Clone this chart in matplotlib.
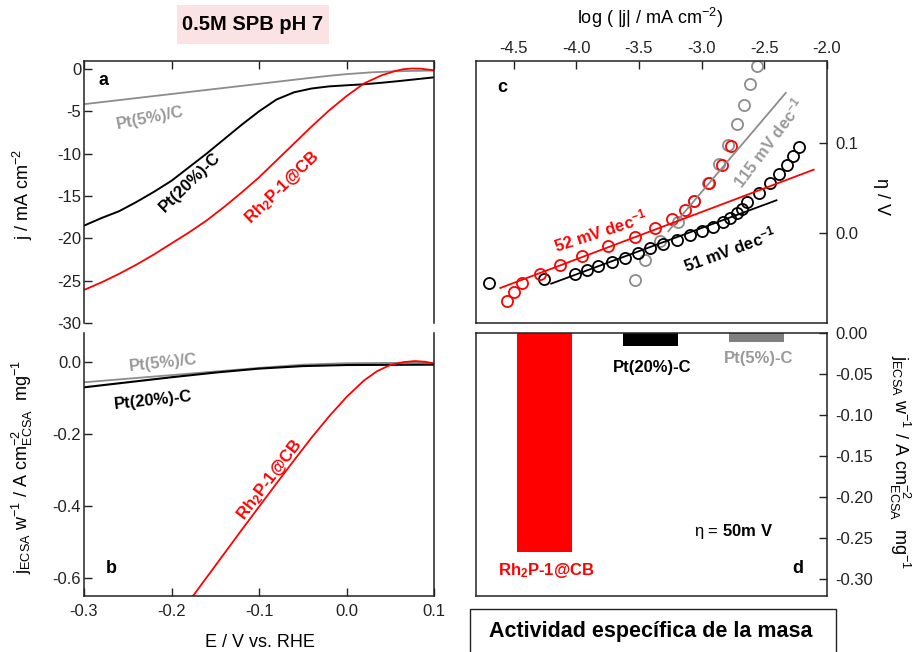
import matplotlib
matplotlib.use("Agg")
import matplotlib.pyplot as plt
from matplotlib.patches import Rectangle

plt.rcParams.update({
    "font.family": ["Liberation Sans", "DejaVu Sans"],
    "font.size": 12,
    "mathtext.fontset": "custom",
    "mathtext.rm": "Liberation Sans",
    "mathtext.it": "Liberation Sans:italic",
    "mathtext.bf": "Liberation Sans:bold",
    "mathtext.default": "regular",
    "axes.unicode_minus": False,
    "axes.linewidth": 1.1,
    "axes.edgecolor": "#222222",
})

RED = "#ff0000"
BLACK = "#000000"
GRAY = "#8c8c8c"
GRAY_TXT = "#999999"

# ---- (a) polarization curves, j / mA cm-2 vs E / V vs RHE ----
E_pt5_a = [-0.30, -0.25, -0.20, -0.15, -0.10, -0.05, -0.02, 0.00, 0.03, 0.06, 0.10]
j_pt5_a = [-4.15, -3.55, -2.95, -2.35, -1.75, -1.15, -0.80, -0.60, -0.38, -0.25, -0.18]

E_pt20_a = [-0.30, -0.28, -0.26, -0.24, -0.22, -0.20, -0.18, -0.16, -0.14, -0.12, -0.10,
            -0.08, -0.06, -0.04, -0.02, 0.00, 0.02, 0.04, 0.06, 0.08, 0.10]
j_pt20_a = [-18.5, -17.6, -16.8, -15.7, -14.5, -13.2, -11.6, -10.0, -8.3, -6.6, -5.0,
            -3.6, -2.75, -2.3, -2.05, -1.92, -1.8, -1.62, -1.42, -1.2, -0.98]

E_rh_a = [-0.30, -0.28, -0.26, -0.24, -0.22, -0.20, -0.18, -0.16, -0.14, -0.12, -0.10,
          -0.08, -0.06, -0.04, -0.02, 0.00, 0.02, 0.04, 0.055, 0.065, 0.075, 0.085, 0.10]
j_rh_a = [-26.1, -25.2, -24.2, -23.1, -21.9, -20.6, -19.3, -17.9, -16.3, -14.6, -12.8,
          -10.8, -8.8, -6.8, -4.9, -3.2, -1.7, -0.75, -0.25, -0.02, 0.06, 0.04, -0.15]

# ---- (b) ECSA/mass normalised activity ----
E_pt5_b = [-0.30, -0.25, -0.20, -0.15, -0.10, -0.05, 0.00, 0.05, 0.10]
j_pt5_b = [-0.057, -0.047, -0.037, -0.027, -0.017, -0.008, -0.004, -0.003, -0.003]

E_pt20_b = [-0.30, -0.25, -0.20, -0.15, -0.10, -0.05, 0.00, 0.05, 0.10]
j_pt20_b = [-0.071, -0.057, -0.043, -0.030, -0.019, -0.012, -0.009, -0.0085, -0.008]

E_rh_b = [-0.18, -0.16, -0.14, -0.12, -0.10, -0.08, -0.06, -0.04, -0.02, 0.00, 0.02,
          0.035, 0.05, 0.065, 0.078, 0.09, 0.10]
j_rh_b = [-0.666, -0.600, -0.534, -0.468, -0.403, -0.338, -0.274, -0.211, -0.152, -0.098,
          -0.052, -0.026, -0.009, -0.001, 0.002, 0.0, -0.005]

# ---- (c) Tafel plots: eta / V vs log(|j| / mA cm-2) ----
logj_rh = [-4.553, -4.500, -4.430, -4.287, -4.128, -3.953, -3.744, -3.529, -3.374,
           -3.239, -3.133, -3.059, -2.939, -2.841, -2.769]
eta_rh = [-0.0760, -0.0656, -0.0556, -0.0452, -0.0352, -0.0252, -0.0148, -0.0044, 0.0054,
          0.0155, 0.0251, 0.0352, 0.0555, 0.0759, 0.0963]

logj_pt20 = [-4.699, -4.256, -4.009, -3.916, -3.823, -3.717, -3.611, -3.505, -3.412,
             -3.306, -3.199, -3.093, -3.000, -2.908, -2.830, -2.770, -2.720, -2.680,
             -2.640, -2.541, -2.456, -2.382, -2.318, -2.271, -2.223]
eta_pt20 = [-0.0556, -0.0511, -0.0452, -0.0415, -0.0371, -0.0326, -0.0278, -0.0222,
            -0.0167, -0.0119, -0.0074, -0.0019, 0.0019, 0.0067, 0.0120, 0.0170, 0.0220,
            0.0270, 0.0340, 0.0444, 0.0556, 0.0656, 0.0752, 0.0852, 0.0952]

logj_pt5 = [-3.529, -3.449, -3.330, -3.190, -3.062, -2.947, -2.860, -2.788, -2.716,
            -2.663, -2.615, -2.562]
eta_pt5 = [-0.052, -0.030, -0.009, 0.012, 0.035, 0.0555, 0.0766, 0.098, 0.1215,
           0.1426, 0.165, 0.185]

# Tafel fit segments (start/end in log j, eta)
fit_rh_x, fit_rh_y = [-4.606, -2.106], [-0.0611, 0.0703]
fit_pt20_x, fit_pt20_y = [-4.200, -2.403], [-0.0563, 0.0363]
fit_pt5_x, fit_pt5_y = [-3.266, -2.329], [0.0019, 0.1556]

# ---- (d) specific mass activity at eta = 50 mV ----
catalysts = ["Rh$_\\mathbf{2}$P-1@CB", "Pt(20%)-C", "Pt(5%)-C"]
activity = [-0.267, -0.016, -0.011]
bar_colors = [RED, BLACK, "#808080"]
label_colors = [RED, BLACK, GRAY_TXT]
label_y = [-0.290, -0.0415, -0.0317]

W, H = 916, 652
fig = plt.figure(figsize=(W / 100, H / 100), dpi=100)


def frac(left, top, right, bottom):
    return [left / W, 1 - bottom / H, (right - left) / W, (bottom - top) / H]


ax_a = fig.add_axes(frac(84, 61, 434, 323))
ax_b = fig.add_axes(frac(84, 333, 434, 596))
ax_c = fig.add_axes(frac(476, 61, 827, 323))
ax_d = fig.add_axes(frac(476, 333, 827, 596))

tick_kw = dict(direction="in", length=6, width=1.0, labelsize=12, colors="#222222",
               labelcolor="#222222")

# (a)
ax_a.plot(E_pt5_a, j_pt5_a, color=GRAY, lw=1.3)
ax_a.plot(E_pt20_a, j_pt20_a, color=BLACK, lw=1.4)
ax_a.plot(E_rh_a, j_rh_a, color=RED, lw=1.3)
ax_a.set_xlim(-0.3, 0.1)
ax_a.set_ylim(-30, 0.95)
ax_a.set_yticks([0, -5, -10, -15, -20, -25, -30])
ax_a.set_xticks([-0.3, -0.2, -0.1, 0.0, 0.1])
ax_a.spines["bottom"].set_visible(False)
ax_a.tick_params(axis="both", **tick_kw)
ax_a.tick_params(axis="x", top=True, bottom=False, labelbottom=False)
ax_a.tick_params(axis="y", pad=2)
ax_a.set_ylabel("j / mA cm$^{-2}$", fontsize=13)
ax_a.yaxis.set_label_coords(-0.174, 0.492)
ax_a.yaxis.label.set_va("center")
ax_a.text(0.057, 0.927, "a", transform=ax_a.transAxes, fontsize=13, fontweight="bold",
          ha="center", va="center")
ax_a.text(-0.2246, -5.79, "Pt(5%)/C", color=GRAY_TXT, fontsize=12, fontweight="bold",
          rotation=11, ha="center", va="center", rotation_mode="anchor")
ax_a.text(-0.1789, -13.35, "Pt(20%)-C", color=BLACK, fontsize=12, fontweight="bold",
          rotation=44, ha="center", va="center", rotation_mode="anchor")
ax_a.text(-0.0737, -14.05, "Rh$_\\mathbf{2}$P-1@CB", color=RED, fontsize=12,
          fontweight="bold", rotation=44, ha="center", va="center", rotation_mode="anchor")

# (b)
ax_b.plot(E_pt5_b, j_pt5_b, color=GRAY, lw=1.3)
ax_b.plot(E_pt20_b, j_pt20_b, color=BLACK, lw=1.5)
ax_b.plot(E_rh_b, j_rh_b, color=RED, lw=1.3)
ax_b.set_xlim(-0.3, 0.1)
ax_b.set_ylim(-0.651, 0.08)
ax_b.set_yticks([0.0, -0.2, -0.4, -0.6])
ax_b.set_yticklabels(["0.0", "-0.2", "-0.4", "-0.6"])
ax_b.set_xticks([-0.3, -0.2, -0.1, 0.0, 0.1])
ax_b.set_xticklabels(["-0.3", "-0.2", "-0.1", "0.0", "0.1"])
ax_b.spines["top"].set_visible(False)
ax_b.tick_params(axis="both", **tick_kw)
ax_b.tick_params(axis="x", pad=6)
ax_b.tick_params(axis="y", pad=2)
ax_b.set_xlabel("E / V vs. RHE", fontsize=13)
ax_b.xaxis.set_label_coords(0.503, -0.178)
ax_b.xaxis.label.set_va("center")
ax_b.set_ylabel("j$_{ECSA}$ w$^{-1}$ / A cm$^{-2}_{ECSA}$  mg$^{-1}$", fontsize=13)
ax_b.yaxis.set_label_coords(-0.177, 0.49)
ax_b.yaxis.label.set_va("center")
ax_b.text(0.077, 0.103, "b", transform=ax_b.transAxes, fontsize=13, fontweight="bold",
          ha="center", va="center")
ax_b.text(-0.2097, -0.0036, "Pt(5%)/C", color=GRAY_TXT, fontsize=12, fontweight="bold",
          rotation=6, ha="center", va="center", rotation_mode="anchor")
ax_b.text(-0.2211, -0.1064, "Pt(20%)-C", color=BLACK, fontsize=12, fontweight="bold",
          rotation=6, ha="center", va="center", rotation_mode="anchor")
ax_b.text(-0.0874, -0.3286, "Rh$_\\mathbf{2}$P-1@CB", color=RED, fontsize=12,
          fontweight="bold", rotation=52.7, ha="center", va="center",
          rotation_mode="anchor")

# (c)
mk = dict(marker="o", ls="none", ms=8, mfc="none", mew=1.3)
ax_c.plot(logj_pt5, eta_pt5, mec=GRAY, **mk)
ax_c.plot(logj_pt20, eta_pt20, mec=BLACK, **mk)
ax_c.plot(logj_rh, eta_rh, mec=RED, **mk)
ax_c.plot(fit_pt5_x, fit_pt5_y, color=GRAY, lw=1.3)
ax_c.plot(fit_pt20_x, fit_pt20_y, color=BLACK, lw=1.3)
ax_c.plot(fit_rh_x, fit_rh_y, color=RED, lw=1.3)
ax_c.set_xlim(-4.8, -2.0)
ax_c.set_ylim(-0.1, 0.191)
ax_c.set_xticks([-4.5, -4.0, -3.5, -3.0, -2.5, -2.0])
ax_c.set_xticklabels(["-4.5", "-4.0", "-3.5", "-3.0", "-2.5", "-2.0"])
ax_c.set_yticks([0.0, 0.1])
ax_c.set_yticklabels(["0.0", "0.1"])
ax_c.xaxis.tick_top()
ax_c.yaxis.tick_right()
ax_c.tick_params(axis="both", **tick_kw)
ax_c.tick_params(axis="x", pad=3.5)
ax_c.tick_params(axis="y", pad=6)
ax_c.set_xlabel("log ( |j| / mA cm$^{-2}$)", fontsize=13)
ax_c.xaxis.set_label_position("top")
ax_c.xaxis.set_label_coords(0.496, 1.163)
ax_c.xaxis.label.set_va("center")
ax_c.set_ylabel("\u03b7 / V", fontsize=13, rotation=270)
ax_c.yaxis.set_label_position("right")
ax_c.yaxis.set_label_coords(1.154, 0.481)
ax_c.yaxis.label.set_va("center")
ax_c.text(0.074, 0.897, "c", transform=ax_c.transAxes, fontsize=13, fontweight="bold",
          ha="center", va="center")
ax_c.text(-3.81, 0.002, "52 mV dec$^{\\mathbf{-1}}$", color=RED, fontsize=12,
          fontweight="bold", rotation=18, ha="center", va="center", rotation_mode="anchor")
ax_c.text(-2.775, -0.0186, "51 mV dec$^{\\mathbf{-1}}$", color=BLACK, fontsize=12,
          fontweight="bold", rotation=20, ha="center", va="center", rotation_mode="anchor")
ax_c.text(-2.47, 0.1007, "115 mV dec$^{\\mathbf{-1}}$", color=GRAY_TXT, fontsize=12,
          fontweight="bold", rotation=53, ha="center", va="center", rotation_mode="anchor")

# (d)
xpos = list(range(len(catalysts)))
ax_d.bar(xpos, activity, width=0.52, color=bar_colors)
ax_d.set_xlim(-0.646, 2.665)
ax_d.set_ylim(-0.3207, 0.0)
ax_d.set_xticks([])
ax_d.set_yticks([0.0, -0.05, -0.10, -0.15, -0.20, -0.25, -0.30])
ax_d.set_yticklabels(["0.00", "-0.05", "-0.10", "-0.15", "-0.20", "-0.25", "-0.30"])
ax_d.yaxis.tick_right()
ax_d.tick_params(axis="both", **tick_kw)
ax_d.tick_params(axis="y", pad=6)
ax_d.set_ylabel("j$_{ECSA}$ w$^{-1}$ / A cm$^{-2}_{ECSA}$  mg$^{-1}$", fontsize=13,
                rotation=270)
ax_d.yaxis.set_label_position("right")
ax_d.yaxis.set_label_coords(1.208, 0.51)
ax_d.yaxis.label.set_va("center")
for x, name, col, ly in zip(xpos, catalysts, label_colors, label_y):
    ax_d.text(x + 0.015, ly, name, color=col, fontsize=12, fontweight="bold",
              ha="center", va="center")
ax_d.text(1.78, -0.2415, "\u03b7 = $\\mathbf{50m\\ V}$", fontsize=12, ha="center",
          va="center")
ax_d.text(0.917, 0.106, "d", transform=ax_d.transAxes, fontsize=13, fontweight="bold",
          ha="center", va="center")

# header box and caption box
fig.patches.append(Rectangle((177 / W, 1 - 44 / H), 152 / W, 39 / H,
                             transform=fig.transFigure, facecolor="#fce3e3",
                             edgecolor="none", zorder=0))
fig.text(253 / W, 1 - 24.5 / H, "0.5M SPB pH 7", fontsize=14.5, fontweight="bold",
         ha="center", va="center")
fig.patches.append(Rectangle((470 / W, -0.05), 366 / W, 0.05 + 1 - 609 / H,
                             transform=fig.transFigure, facecolor="white",
                             edgecolor="#222222", lw=1.0, zorder=0))
fig.text(651 / W, 1 - 632 / H, "Actividad específica de la masa", fontsize=15.5,
         fontweight="bold", ha="center", va="center")

fig.savefig("out.png", dpi=100)
